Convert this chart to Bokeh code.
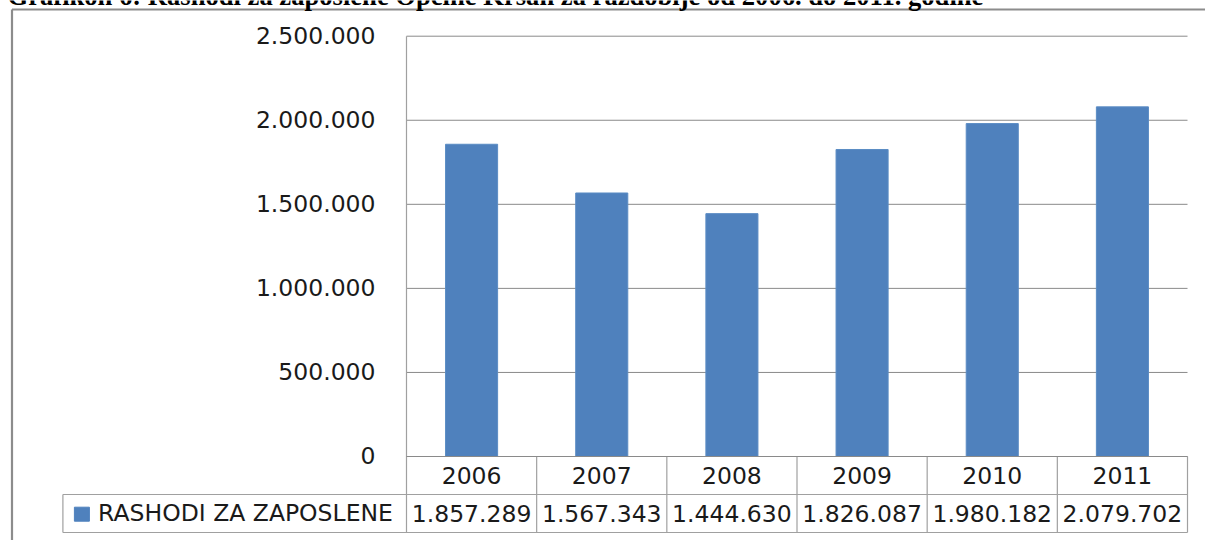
from bokeh.plotting import figure
from bokeh.models import Range1d, ColumnDataSource
from bokeh.core.properties import value
from bokeh.embed import file_html
from bokeh.resources import INLINE

# ---------------- data ----------------
title_text = "Grafikon 6: Rashodi za zaposlene Općine Kršan za razdoblje od 2006. do 2011. godine"
series_name = "RASHODI ZA ZAPOSLENE"
years = ["2006", "2007", "2008", "2009", "2010", "2011"]
values = [1857289, 1567343, 1444630, 1826087, 1980182, 2079702]
y_ticks = [0, 500000, 1000000, 1500000, 2000000, 2500000]


def fmt(v):
    return f"{v:,}".replace(",", ".")


value_labels = [fmt(v) for v in values]
tick_labels = [fmt(v) for v in y_ticks]

# ---------------- layout (pixels of the 1205x540 canvas) ----------------
W, H = 1205, 540
PX_L, PX_R = 406.0, 1187.0      # plot area left / right
PY_TOP, PY_ZERO = 35.7, 456.0   # top gridline / zero line
YMAX = y_ticks[-1]
ncat = len(years)

ux = (PX_R - PX_L) / ncat          # px per category
uy = (PY_ZERO - PY_TOP) / YMAX     # px per value unit


def dx(px):
    return (px - PX_L) / ux


def dy(py):
    return (PY_ZERO - py) / uy


TSHIFT = -9.0   # screen correction of the text baseline

BAR = "#4F81BD"
GRID = "#8a8a8a"
TABLE = "#a0a0a0"
TXT = "#1a1a1a"
FONT = value("DejaVu Sans")
FS = "23.5px"

p = figure(width=W, height=H,
           x_range=Range1d(dx(0), dx(W)), y_range=Range1d(dy(H), dy(0)),
           output_backend="svg", toolbar_location=None,
           x_axis_location=None, y_axis_location=None,
           min_border=0, outline_line_color=None)
p.grid.visible = False
p.background_fill_color = "white"
p.border_fill_color = "white"

xc = [i + 0.5 for i in range(ncat)]

# outer frame of the chart object
p.segment(x0=[dx(11.5), dx(11.5)], y0=[dy(9), dy(9)],
          x1=[dx(W + 5), dx(11.5)], y1=[dy(9), dy(H + 5)],
          line_color="#8c8c8c", line_width=2.2)

# gridlines
p.segment(x0=[0] * len(y_ticks), x1=[ncat] * len(y_ticks), y0=y_ticks, y1=y_ticks,
          line_color=GRID, line_width=1)

# bars
src = ColumnDataSource(dict(x=xc, top=values, year=years))
p.vbar(x="x", top="top", bottom=0, width=0.4, source=src,
       fill_color=BAR, line_color="#5b8cc4", line_width=1)

# value axis line + data table lines
table_bottom = dy(532)
row_split = dy(494)
legend_left = dx(62.4)
vx = list(range(ncat + 1))
p.segment(x0=vx, x1=vx, y0=[YMAX] + [0] * ncat, y1=[table_bottom] * (ncat + 1),
          line_color=TABLE, line_width=1.2)
p.segment(x0=[legend_left, legend_left, legend_left], x1=[ncat, ncat, legend_left],
          y0=[row_split, table_bottom, row_split], y1=[row_split, table_bottom, table_bottom],
          line_color=TABLE, line_width=1.2)
p.segment(x0=[0], x1=[ncat], y0=[0], y1=[0], line_color=GRID, line_width=1)

# y tick labels
p.text(x=[dx(375)] * len(y_ticks), y=y_ticks, text=tick_labels, y_offset=8.4 + TSHIFT,
       text_align="right", text_baseline="alphabetic",
       text_font=FONT, text_font_size=FS, text_color=TXT)

# year row
p.text(x=xc, y=[dy(483.5)] * ncat, text=years, y_offset=TSHIFT,
       text_align="center", text_baseline="alphabetic",
       text_font=FONT, text_font_size=FS, text_color=TXT)

# value row
p.text(x=xc, y=[dy(521.5)] * ncat, text=value_labels, y_offset=TSHIFT,
       text_align="center", text_baseline="alphabetic",
       text_font=FONT, text_font_size=FS, text_color=TXT)

# legend key + series name
p.rect(x=[dx(81.4)], y=[dy(513.7)], width=15, height=14,
       width_units="screen", height_units="screen",
       fill_color=BAR, line_color=BAR)
p.text(x=[dx(97.6)], y=[dy(521.5)], text=[series_name], y_offset=TSHIFT,
       text_align="left", text_baseline="alphabetic",
       text_font=FONT, text_font_size=FS, text_color=TXT)

# document caption (cut off at the top, as in the source page)
p.text(x=[dx(7)], y=[dy(4.5)], text=[title_text], y_offset=TSHIFT,
       text_align="left", text_baseline="alphabetic",
       text_font=value("Liberation Serif"), text_font_style="bold",
       text_font_size="26.6px", text_color="black")

open("out.html", "w").write(file_html(p, INLINE))
